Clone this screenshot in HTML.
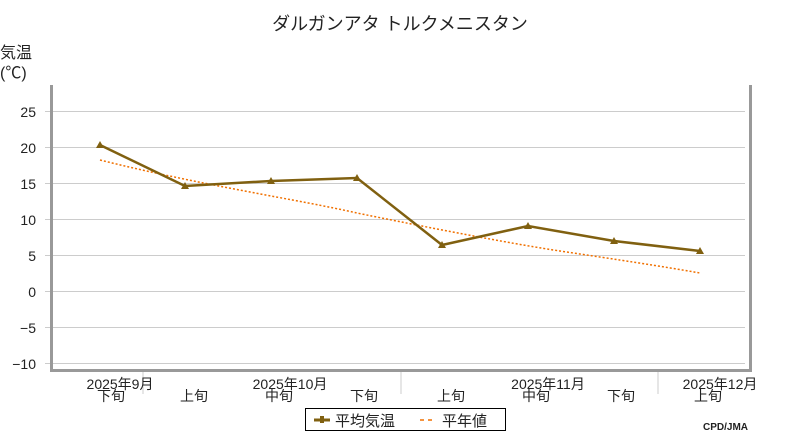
<!DOCTYPE html>
<html><head><meta charset="utf-8"><style>
body{margin:0;background:#fff;}
svg text{font-family:"Liberation Sans","Noto Sans CJK JP",sans-serif;fill:#222;}
</style></head><body>
<svg width="800" height="440" viewBox="0 0 800 440" xmlns="http://www.w3.org/2000/svg">
<text x="400" y="30" font-size="18" text-anchor="middle">ダルガンアタ トルクメニスタン</text>
<text x="0" y="58" font-size="16">気温</text>
<text x="0" y="78" font-size="16">(℃)</text>
<g stroke="#ccc" stroke-width="1">
<line x1="45" y1="111.5" x2="745" y2="111.5"/><line x1="45" y1="147.5" x2="745" y2="147.5"/>
<line x1="45" y1="183.5" x2="745" y2="183.5"/><line x1="45" y1="219.5" x2="745" y2="219.5"/>
<line x1="45" y1="255.5" x2="745" y2="255.5"/><line x1="45" y1="291.5" x2="745" y2="291.5"/>
<line x1="45" y1="327.5" x2="745" y2="327.5"/><line x1="45" y1="363.5" x2="745" y2="363.5"/>
<line x1="143" y1="370" x2="143" y2="394"/><line x1="401" y1="370" x2="401" y2="394"/><line x1="658" y1="370" x2="658" y2="394"/>
</g>
<g fill="#999"><rect x="50" y="85" width="3" height="287"/><rect x="749" y="85" width="3" height="287"/><rect x="50" y="369" width="702" height="3"/></g>
<g font-size="14" text-anchor="end">
<text x="36" y="117">25</text><text x="36" y="153">20</text><text x="36" y="189">15</text><text x="36" y="225">10</text>
<text x="36" y="261">5</text><text x="36" y="297">0</text><text x="36" y="333">−5</text><text x="36" y="369">−10</text>
</g>
<path d="M100,160 C200,185 300,200 357,213 C450,232 520,245 560,251 C620,260 660,266 700,273" fill="none" stroke="#f07000" stroke-width="1.5" stroke-dasharray="2,2"/>
<polyline points="100,145 185,186 271,181 357,178 442,245 528,226 614,241 700,251" fill="none" stroke="#806010" stroke-width="2.5"/>
<g fill="#806010">
<path d="M96,148 L100,141 L104,148Z"/><path d="M181,189 L185,182 L189,189Z"/><path d="M267,184 L271,177 L275,184Z"/><path d="M353,181 L357,174 L361,181Z"/>
<path d="M438,248 L442,241 L446,248Z"/><path d="M524,229 L528,222 L532,229Z"/><path d="M610,244 L614,237 L618,244Z"/><path d="M696,254 L700,247 L704,254Z"/>
</g>
<g font-size="14" text-anchor="middle">
<text x="120" y="389">2025年9月</text><text x="290" y="389">2025年10月</text><text x="548" y="389">2025年11月</text><text x="720" y="389">2025年12月</text>
<text x="111" y="401">下旬</text><text x="194" y="401">上旬</text><text x="279" y="401">中旬</text><text x="364" y="401">下旬</text>
<text x="451" y="401">上旬</text><text x="536" y="401">中旬</text><text x="621" y="401">下旬</text><text x="708" y="401">上旬</text>
</g>
<rect x="305.5" y="408.5" width="200" height="22" fill="#fff" stroke="#000"/>
<line x1="314" y1="420" x2="330" y2="420" stroke="#806010" stroke-width="3"/><rect x="320" y="416" width="4" height="7" fill="#806010"/>
<text x="335" y="426" font-size="15">平均気温</text>
<line x1="420" y1="420" x2="436" y2="420" stroke="#f07000" stroke-width="1.5" stroke-dasharray="4,4"/>
<text x="442" y="426" font-size="15">平年値</text>
<text x="748" y="430" font-size="10" font-weight="bold" text-anchor="end" font-family="Liberation Mono,monospace">CPD/JMA</text>
</svg>
</body></html>
